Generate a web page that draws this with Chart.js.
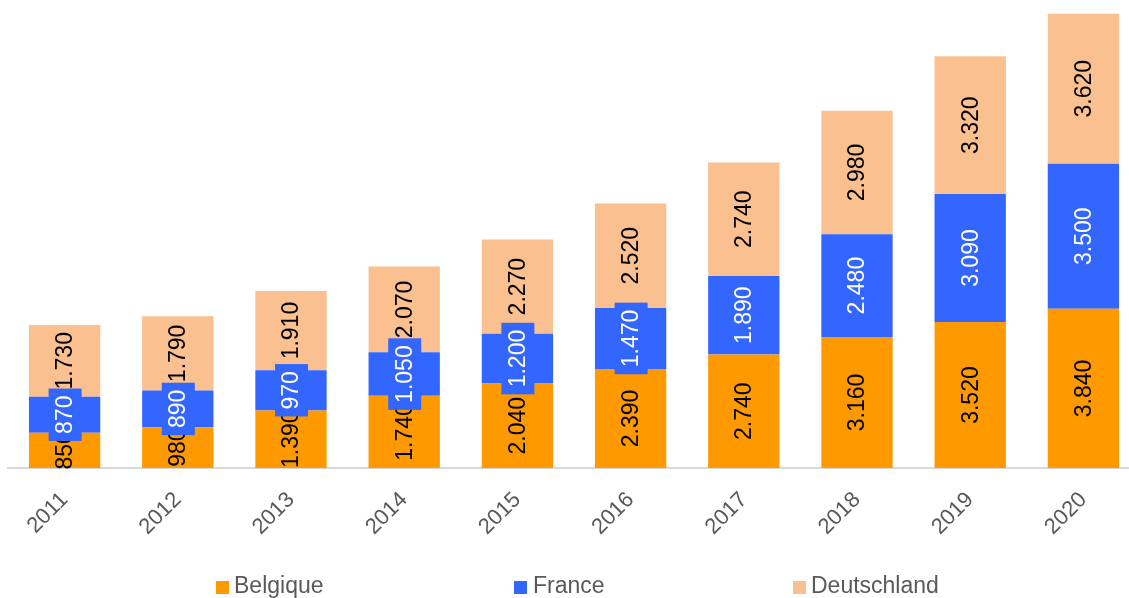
<!DOCTYPE html>
<html>
<head>
<meta charset="utf-8">
<script src="https://cdn.jsdelivr.net/npm/chart.js@4/dist/chart.umd.min.js"></script>
<style>
  html, body { margin: 0; padding: 0; background: #fff; overflow: hidden; }
  #wrap { position: relative; width: 1140px; height: 598px; }
  .leg { position: absolute; top: 574px; font: 23px/23px Arial, "Liberation Sans", sans-serif; color: #595959; white-space: nowrap; }
  .caja { position: absolute; top: 581px; width: 13px; height: 13px; }
</style>
</head>
<body>
<div id="wrap">
  <canvas id="grafico" width="1140" height="598"></canvas>
  <div class="caja" style="left:216px;background:#FF9900"></div><div class="leg" style="left:234px">Belgique</div>
  <div class="caja" style="left:514px;background:#3366FF"></div><div class="leg" style="left:533px">France</div>
  <div class="caja" style="left:793px;background:#FAC090"></div><div class="leg" style="left:811px">Deutschland</div>
</div>
<script>
var jahre = ['2011','2012','2013','2014','2015','2016','2017','2018','2019','2020'];
var belgique = [850, 980, 1390, 1740, 2040, 2390, 2740, 3160, 3520, 3840];
var france = [870, 890, 970, 1050, 1200, 1470, 1890, 2480, 3090, 3500];
var deutschland = [1730, 1790, 1910, 2070, 2270, 2520, 2740, 2980, 3320, 3620];

// punto como separador de miles
function formato(v){
    return String(v).replace(/\B(?=(\d{3})+(?!\d))/g, '.');
}

// etiquetas giradas dentro de cada segmento
var etiquetas = {
    id: 'etiquetas',
    afterDatasetsDraw: function(chart){
        var ctx = chart.ctx;
        ctx.save();
        ctx.font = '23px Arial, "Liberation Sans", sans-serif';
        ctx.textAlign = 'center';
        ctx.textBaseline = 'middle';
        chart.data.datasets.forEach(function(ds, i){
            var meta = chart.getDatasetMeta(i);
            meta.data.forEach(function(bar, j){
                var txt = formato(ds.data[j]);
                var cy = (bar.y + bar.base) / 2;
                ctx.save();
                ctx.translate(bar.x, cy);
                ctx.rotate(-Math.PI / 2);
                if (ds.etiquetaFondo) {
                    var w = ctx.measureText(txt).width;
                    ctx.fillStyle = ds.etiquetaFondo;
                    ctx.fillRect(-w / 2 - 7, -16, w + 14, 33);
                }
                ctx.fillStyle = ds.etiquetaColor;
                ctx.fillText(txt, 0, 1);
                ctx.restore();
            });
        });
        ctx.restore();
    }
};

document.addEventListener('DOMContentLoaded', function(){
    var ctx = document.getElementById('grafico').getContext('2d');
    new Chart(ctx, {
        type: 'bar',
        data: {
            labels: jahre,
            datasets: [
                { label: 'Belgique', data: belgique, backgroundColor: '#FF9900', etiquetaColor: '#000000' },
                { label: 'France', data: france, backgroundColor: '#3366FF', etiquetaColor: '#FFFFFF', etiquetaFondo: '#3366FF' },
                { label: 'Deutschland', data: deutschland, backgroundColor: '#FAC090', etiquetaColor: '#000000' }
            ]
        },
        options: {
            responsive: false,
            animation: false,
            layout: { padding: { left: 8, top: 12, right: 0, bottom: 0 } },
            datasets: { bar: { categoryPercentage: 0.63, barPercentage: 1 } },
            scales: {
                x: {
                    stacked: true,
                    grid: { display: false, drawTicks: false },
                    border: { display: true, color: '#D9D9D9', width: 2 },
                    ticks: {
                        color: '#595959',
                        font: { family: 'Arial, "Liberation Sans", sans-serif', size: 22 },
                        minRotation: 45,
                        maxRotation: 45,
                        padding: 19
                    },
                    afterFit: function(scale){ scale.height = 130; }
                },
                y: { stacked: true, display: false, min: 0, max: 11000 }
            },
            plugins: {
                legend: { display: false },
                tooltip: { enabled: false }
            }
        },
        plugins: [etiquetas]
    });
});
</script>
</body>
</html>
